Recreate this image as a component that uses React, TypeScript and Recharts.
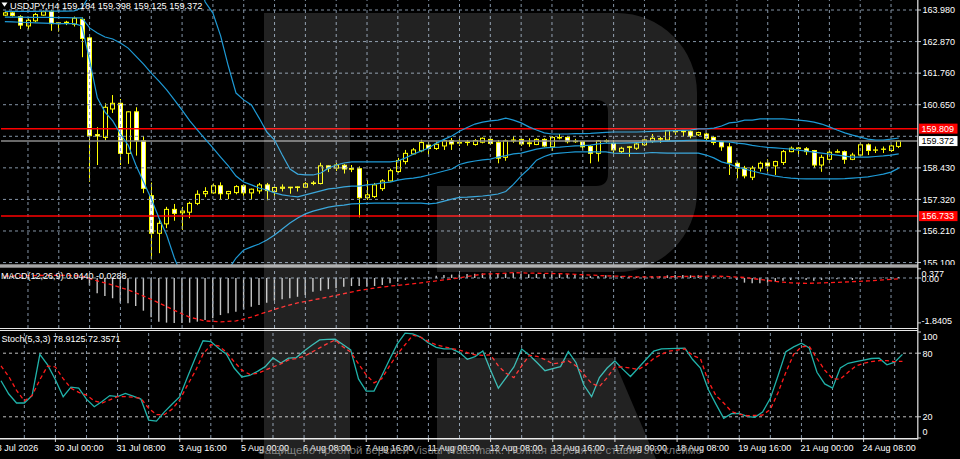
import React from 'react';
import { ComposedChart, Bar, Line, XAxis, YAxis, ReferenceLine } from 'recharts';

const FONT = '"Liberation Sans", Arial, sans-serif';
const GRID = '#8494a6';
const BAND = '#1e9ad6';

const opens = [
  163.80,163.88,163.75,163.42,163.60,163.80,163.93,163.50,163.52,163.48,
  163.65,163.00,159.60,159.50,160.50,160.70,158.94,160.40,159.38,157.45,
  156.13,156.46,156.97,156.85,156.87,157.18,157.52,157.55,157.80,157.52,
  157.56,157.80,157.55,157.62,157.83,157.60,157.71,157.73,157.74,157.75,
  157.88,157.88,158.50,158.42,158.52,158.38,158.40,157.38,157.42,157.70,
  157.97,158.30,158.65,158.92,159.03,159.23,159.11,159.20,159.39,159.30,
  159.32,159.25,159.33,159.43,159.32,158.80,159.38,159.43,159.28,159.25,
  159.43,159.17,159.48,159.50,159.35,159.35,159.18,158.94,159.36,159.29,
  159.00,159.15,159.12,159.24,159.36,159.44,159.41,159.70,159.70,159.70,
  159.59,159.62,159.50,159.35,159.17,158.59,158.42,158.10,158.42,158.60,
  158.50,158.62,159.00,159.11,159.10,159.04,158.53,158.73,158.98,159.00,
  158.73,158.88,159.24,159.05,159.08,159.04,159.184,
];
const highs = [
  163.92,163.93,163.80,163.68,163.88,163.96,163.98,163.56,163.60,163.75,
  163.72,163.02,159.86,160.70,160.99,160.85,160.42,160.56,159.55,157.91,
  156.65,157.06,157.16,157.06,157.24,157.64,157.75,157.88,157.92,157.62,
  157.82,157.84,157.70,157.90,157.90,157.76,157.85,157.76,157.78,157.93,
  157.97,158.61,158.51,158.60,158.56,158.53,158.48,158.00,157.90,158.03,
  158.40,158.78,159.06,159.13,159.42,159.35,159.35,159.44,159.48,159.44,
  159.41,159.44,159.50,159.50,159.41,159.43,159.55,159.47,159.47,159.47,
  159.47,159.55,159.62,159.55,159.45,159.38,159.23,159.41,159.43,159.41,
  159.17,159.20,159.31,159.43,159.62,159.52,159.76,159.79,159.76,159.74,
  159.70,159.66,159.55,159.38,159.31,158.65,158.50,158.50,158.65,158.73,
  158.68,159.06,159.18,159.16,159.16,159.06,158.89,159.06,159.08,159.04,
  158.96,159.32,159.29,159.18,159.18,159.24,159.398,
];
const lows = [
  163.77,163.75,163.31,163.30,163.55,163.78,163.25,163.22,163.45,163.40,
  162.32,157.94,158.53,159.40,160.36,158.53,158.57,158.86,157.54,155.21,
  155.43,156.31,156.57,156.25,156.66,157.12,157.40,157.52,157.33,157.33,
  157.50,157.45,157.33,157.52,157.29,157.45,157.60,157.52,157.60,157.74,
  157.82,157.85,158.28,158.32,158.23,158.28,156.69,157.30,157.37,157.62,
  157.95,158.25,158.55,158.90,158.98,158.90,159.06,159.06,159.06,159.20,
  159.21,159.21,159.29,159.23,158.59,158.68,159.31,159.20,159.17,159.23,
  159.17,159.03,159.43,159.29,159.31,159.06,158.59,158.65,159.31,158.94,
  158.94,158.82,159.06,159.20,159.31,159.31,159.38,159.59,159.55,159.47,
  159.55,159.41,159.23,159.03,158.18,158.06,158.06,158.00,158.30,158.30,
  158.18,158.53,158.98,158.88,158.88,158.43,158.29,158.59,158.95,158.57,
  158.70,158.85,158.88,158.95,158.95,158.99,159.125,
];
const closes = [
  163.88,163.79,163.45,163.62,163.82,163.92,163.50,163.53,163.55,163.69,
  162.98,159.56,159.55,160.56,160.70,158.94,160.40,159.38,157.71,156.13,
  156.48,156.97,156.83,156.91,157.18,157.50,157.60,157.80,157.52,157.60,
  157.77,157.55,157.68,157.83,157.63,157.74,157.75,157.75,157.76,157.87,
  157.90,158.50,158.42,158.53,158.39,158.41,157.38,157.48,157.83,157.97,
  158.33,158.69,158.94,159.06,159.32,159.11,159.26,159.39,159.27,159.32,
  159.34,159.39,159.47,159.29,158.77,159.38,159.41,159.27,159.31,159.43,
  159.20,159.50,159.50,159.35,159.37,159.17,158.94,159.38,159.38,159.06,
  159.12,159.17,159.27,159.41,159.47,159.46,159.74,159.71,159.72,159.55,
  159.67,159.47,159.32,159.17,158.61,158.42,158.15,158.42,158.59,158.50,
  158.65,159.00,159.12,159.13,159.00,158.53,158.80,158.98,159.00,158.73,
  158.88,159.24,159.04,159.06,159.09,159.20,159.372,
];

const bbUpper = [
  163.93,163.93,163.93,163.93,163.93,163.94,163.94,163.94,163.94,163.95,
  164.05,164.50,165.40,165.70,165.85,166.00,166.05,166.20,166.25,166.20,
  166.30,166.25,166.35,166.00,165.60,165.10,164.26,163.87,163.07,162.01,
  161.06,160.82,160.64,160.18,159.69,159.41,158.88,158.39,158.21,158.18,
  158.18,158.25,158.42,158.53,158.60,158.64,158.64,158.64,158.64,158.64,
  158.64,158.67,158.78,158.91,159.02,159.13,159.30,159.43,159.55,159.72,
  159.85,159.97,160.04,160.08,160.11,160.18,160.11,160.01,159.87,159.76,
  159.66,159.62,159.62,159.62,159.63,159.63,159.64,159.66,159.68,159.69,
  159.69,159.69,159.69,159.70,159.71,159.72,159.73,159.74,159.75,159.76,
  159.80,159.80,159.83,159.90,160.01,160.04,160.11,160.11,160.15,160.15,
  160.15,160.15,160.13,160.11,160.08,160.04,159.97,159.87,159.76,159.66,
  159.58,159.51,159.44,159.41,159.41,159.44,159.48,
];
const bbMiddle = [
  163.73,163.73,163.73,163.72,163.72,163.72,163.72,163.71,163.71,163.70,
  163.70,163.35,163.17,163.03,162.96,162.82,162.64,162.36,162.08,161.76,
  161.48,161.17,160.82,160.46,160.08,159.76,159.44,159.13,158.81,158.50,
  158.14,157.93,157.83,157.72,157.65,157.55,157.48,157.44,157.41,157.48,
  157.55,157.62,157.69,157.72,157.76,157.79,157.79,157.83,157.86,157.90,
  157.93,158.00,158.04,158.07,158.11,158.18,158.25,158.32,158.39,158.55,
  158.62,158.67,158.71,158.74,158.81,158.86,158.92,158.95,159.02,159.09,
  159.13,159.15,159.16,159.18,159.20,159.21,159.23,159.27,159.30,159.30,
  159.30,159.31,159.32,159.33,159.34,159.35,159.37,159.38,159.39,159.40,
  159.41,159.39,159.37,159.35,159.34,159.30,159.27,159.22,159.18,159.15,
  159.13,159.11,159.09,159.05,159.02,158.98,158.95,158.91,158.88,158.84,
  158.81,158.81,158.81,158.83,158.85,158.88,158.92,
];
const bbLower = [
  163.57,163.56,163.55,163.54,163.53,163.52,163.51,163.50,163.50,163.50,
  163.42,162.22,160.89,160.39,160.08,159.62,159.23,158.53,157.93,157.34,
  156.67,156.07,155.26,154.60,154.30,154.20,154.30,154.45,154.65,154.85,
  155.26,155.54,155.65,155.75,155.89,156.07,156.28,156.49,156.67,156.81,
  156.91,156.98,157.05,157.09,157.12,157.16,157.17,157.18,157.19,157.19,
  157.19,157.19,157.19,157.19,157.19,157.16,157.19,157.26,157.33,157.39,
  157.40,157.42,157.44,157.47,157.51,157.60,157.85,158.15,158.40,158.70,
  158.83,158.92,158.95,158.97,158.99,158.99,158.99,158.99,158.99,158.95,
  158.94,158.94,158.94,158.95,158.97,158.96,158.95,158.95,158.95,158.95,
  158.95,158.88,158.78,158.64,158.57,158.46,158.39,158.32,158.25,158.19,
  158.14,158.10,158.07,158.05,158.04,158.04,158.04,158.04,158.04,158.05,
  158.07,158.09,158.11,158.16,158.21,158.28,158.42,
];

const macdHist = [
  0.06,0.06,0.05,0.04,0.04,0.05,0.03,0.01,0.00,0.01,
  -0.08,-0.30,-0.63,-0.74,-0.83,-1.01,-1.04,-1.15,-1.34,-1.61,
  -1.79,-1.83,-1.84,-1.84,-1.83,-1.79,-1.72,-1.65,-1.52,-1.45,
  -1.38,-1.28,-1.18,-1.11,-1.01,-0.93,-0.87,-0.83,-0.77,-0.70,
  -0.56,-0.52,-0.46,-0.42,-0.36,-0.33,-0.33,-0.36,-0.33,-0.29,
  -0.22,-0.15,-0.08,-0.05,-0.01,0.05,0.09,0.12,0.14,0.15,
  0.16,0.17,0.19,0.19,0.16,0.19,0.22,0.16,0.15,0.16,
  0.16,0.15,0.16,0.15,0.15,0.13,0.08,0.08,0.11,0.11,
  0.08,0.05,0.05,0.08,0.08,0.08,0.11,0.12,0.12,0.11,
  0.11,0.08,0.05,0.02,-0.01,-0.08,-0.19,-0.22,-0.22,-0.19,
  -0.15,-0.11,-0.08,-0.05,-0.08,-0.11,-0.08,-0.05,-0.05,-0.05,
  -0.08,-0.04,-0.01,-0.01,0.02,0.03,0.044,
];
const macdSignal = [
  0.08,null,0.09,null,0.10,null,0.11,null,0.11,null,
  0.08,null,-0.12,null,-0.29,null,-0.49,null,-0.74,null,
  -1.02,null,-1.33,null,-1.61,null,-1.76,null,-1.80,null,
  -1.76,null,-1.60,null,-1.39,null,-1.19,null,-1.02,null,
  -0.90,null,-0.78,null,-0.64,null,-0.51,null,-0.41,null,
  -0.33,null,-0.27,null,-0.20,null,-0.12,null,-0.04,null,
  0.06,null,0.16,null,0.18,null,0.22,null,0.20,null,
  0.19,null,0.18,null,0.15,null,0.12,null,0.09,null,
  0.07,null,0.05,null,0.05,null,0.05,null,0.06,null,
  0.07,null,0.08,null,0.06,null,0.02,null,-0.06,null,
  -0.14,null,-0.20,null,-0.22,null,-0.20,null,-0.18,null,
  -0.15,null,-0.12,null,-0.08,null,-0.029,
];

const stochK = [
  54,41.5,33,33,40,79,69,55,39,48,
  47,36.7,29.5,34.4,40,39,42,39.6,36.7,16.9,
  15.9,24.4,31.8,39,57.6,75.5,91.7,91,84.7,79,
  66,57.6,59,62.9,67.3,75.6,70.8,75.3,75.9,82,
  87.5,92.6,93.1,93.3,88.2,83.1,55.7,44.3,44.3,58.8,
  74,88.8,99,98.3,95.2,89.7,85.6,84.1,84.1,80.6,
  74.3,76.8,82,64,47,57,67,84,78,71,
  63.5,65.5,67.3,81.5,71,50,39,57,66,72.7,
  65,58,66,74,82,84,84.3,84.6,84.8,74,
  66,46,32,18.5,23,23.2,20.4,19.5,24.5,37.4,
  59,81.5,86,89.5,85,62,51,47,66,70.5,
  72,73.5,75,75.3,69,71.5,78.91,
];
const stochD = [
  68,58,45,35,40,55,68,67,56,47,
  43,40.5,35,33,36,39,39,38.5,37.4,28,
  22,22,27,36,50,63,79,88,87,81,
  72,64,60,61,64,67,70,73.7,75,77,
  81,85,89,92.5,86,81,70,59.5,52,56,
  68,79,88,97,95,91,88,86,84.5,83,
  80.5,78.5,78,78.4,68,61,57,68,78,77,
  74,70,71,72.7,68,60,51.6,48.5,57,67,
  67,66,64.5,69,75,79,82,83,84,78,
  75,54,40,33,25,22.5,21,21.3,21.6,27,
  43,62,79,86,86.6,75,64,56,55.5,62,
  68,70.5,72,73,73,72,72.36,
];

const xTickIdx = [0, 7, 15, 23, 31, 39, 47, 55, 63, 71, 79, 87, 95, 103, 111];
const xTickLabels = [
  '28 Jul 2026', '30 Jul 00:00', '31 Jul 08:00', '3 Aug 16:00', '5 Aug 00:00',
  '6 Aug 08:00', '7 Aug 16:00', '11 Aug 00:00', '12 Aug 08:00', '13 Aug 16:00',
  '17 Aug 00:00', '18 Aug 08:00', '19 Aug 16:00', '21 Aug 00:00', '24 Aug 08:00',
];
const priceTicks = [155.1, 156.21, 157.32, 158.43, 159.54, 160.65, 161.76, 162.87, 163.98];
const macdTicks = [0.377, 0, -1.8405];
const macdTickLabels = ['0.377', '0.00', '-1.8405'];
const stochTicks = [100, 80, 20, 0];
const stochLevels = [80, 20];
const resistance = 159.809;
const support = 156.733;
const bid = 159.372;
const headerText = 'USDJPY,H4  159.184 159.398 159.125 159.372';
const macdText = 'MACD(12,26,9) 0.0440 -0.0288';
const stochText = 'Stoch(5,3,3) 78.9125 72.3571';

const SLOTS = 119;
const gridIdx = Array.from({ length: 29 }, (_, k) => 3 + 4 * k);

const data = Array.from({ length: SLOTS }, (_, i) =>
  i < opens.length
    ? {
        idx: i,
        o: opens[i], h: highs[i], l: lows[i], c: closes[i],
        range: [lows[i], highs[i]],
        bu: bbUpper[i], bm: bbMiddle[i], bl: bbLower[i],
        mh: macdHist[i], ms: macdSignal[i],
        sk: stochK[i], sd: stochD[i],
      }
    : { idx: i }
);

function Candle(props: any) {
  const { x, y, width, height, payload } = props;
  if (!payload || payload.o == null) return <g />;
  const top = Math.min(y, y + height);
  const hgt = Math.abs(height);
  const span = payload.h - payload.l;
  const k = span > 0 ? hgt / span : 0;
  const yO = top + (payload.h - payload.o) * k;
  const yC = top + (payload.h - payload.c) * k;
  const bTop = Math.min(yO, yC);
  const bH = Math.max(Math.abs(yC - yO), 0.01);
  const cx = Math.round(x + width / 2) + 0.5;
  const bull = payload.c >= payload.o;
  return (
    <g>
      <line x1={cx} x2={cx} y1={top} y2={top + hgt} stroke="#ffff00" strokeWidth={1} />
      <rect x={cx - 2} y={bTop} width={4} height={bH} fill={bull ? '#000' : '#fff'} stroke="#ffff00" strokeWidth={1} />
    </g>
  );
}

const priceTag = (text: string, bg: string, fg: string) => (p: any) => {
  const vb = p.viewBox || {};
  const xr = (vb.x ?? 0) + (vb.width ?? 0);
  const yy = vb.y ?? 0;
  return (
    <g>
      <rect x={xr + 1} y={yy - 5} width={38.5} height={10} fill={bg} />
      <text x={xr + 3.5} y={yy + 3.3} fill={fg} fontSize={9} fontFamily={FONT}>{text}</text>
    </g>
  );
};

function PriceTick(props: any) {
  const { y, payload } = props;
  const v = payload.value;
  if (Math.abs(v - 159.54) < 0.001) return <g />;
  return (
    <g>
      <line x1={918} x2={921} y1={y} y2={y} stroke="#d0d0d0" />
      <text x={922.5} y={y + 3.3} fill="#fff" fontSize={9} fontFamily={FONT}>{v.toFixed(3)}</text>
    </g>
  );
}

const macdOffsets = [7.7, 3.5, 1.2];
function MacdTick(props: any) {
  const { y, payload } = props;
  const k = macdTicks.indexOf(payload.value);
  if (k < 0) return <g />;
  return (
    <g>
      <line x1={918} x2={921} y1={y} y2={y} stroke="#d0d0d0" />
      <text x={921.5} y={y + macdOffsets[k]} fill="#fff" fontSize={9} fontFamily={FONT}>{macdTickLabels[k]}</text>
    </g>
  );
}

const stochOffsets = [8, 3.8, 3.2, -3];
function StochTick(props: any) {
  const { y, payload } = props;
  const k = stochTicks.indexOf(payload.value);
  if (k < 0) return <g />;
  return (
    <g>
      <line x1={918} x2={921} y1={y} y2={y} stroke="#d0d0d0" />
      <text x={922.5} y={y + stochOffsets[k]} fill="#fff" fontSize={9} fontFamily={FONT}>{String(payload.value)}</text>
    </g>
  );
}

function DateTick(props: any) {
  const { x, payload } = props;
  const k = xTickIdx.indexOf(payload.value);
  if (k < 0) return <g />;
  const tx = k === 0 ? x - 9.3 : x - 1;
  return (
    <g>
      {k > 0 && <line x1={x} x2={x} y1={108} y2={112} stroke="#d0d0d0" />}
      <text x={tx} y={120.7} fill="#fff" fontSize={9} fontFamily={FONT}>{xTickLabels[k]}</text>
    </g>
  );
}

const margin = { top: 0, right: 0, bottom: 0, left: 1 };

export default function App() {
  return (
    <div style={{ position: 'absolute', left: 0, top: 0, width: 960, height: 459, background: '#000', overflow: 'hidden' }}>
      <div style={{ position: 'absolute', left: 0, top: 0 }}>
        <ComposedChart width={960} height={265} data={data} margin={margin}>
          <XAxis dataKey="idx" hide />
          <YAxis orientation="right" width={42} domain={[155.014, 164.332]} allowDataOverflow ticks={priceTicks}
            interval={0} tick={<PriceTick />} axisLine={false} tickLine={false} />
          {gridIdx.map((i) => (
            <ReferenceLine key={'v' + i} x={i} stroke={GRID} strokeDasharray="3 3" />
          ))}
          {priceTicks.map((p) => (
            <ReferenceLine key={'h' + p} y={p} stroke={GRID} strokeDasharray="3 3" />
          ))}
          <ReferenceLine y={bid} stroke="#8c8c8c" strokeWidth={1.5} label={priceTag(bid.toFixed(3), '#ffffff', '#000000')} />
          <ReferenceLine y={resistance} stroke="#ff0000" strokeWidth={1.5} label={priceTag(resistance.toFixed(3), '#ff0000', '#ffffff')} />
          <ReferenceLine y={support} stroke="#ff0000" strokeWidth={1.5} label={priceTag(support.toFixed(3), '#ff0000', '#ffffff')} />
          <Line dataKey="bu" stroke={BAND} strokeWidth={1.2} dot={false} connectNulls isAnimationActive={false} />
          <Line dataKey="bm" stroke={BAND} strokeWidth={1.2} dot={false} connectNulls isAnimationActive={false} />
          <Line dataKey="bl" stroke={BAND} strokeWidth={1.2} dot={false} connectNulls isAnimationActive={false} />
          <Bar dataKey="range" barSize={5} shape={<Candle />} isAnimationActive={false} />
        </ComposedChart>
      </div>

      <div style={{ position: 'absolute', left: 0, top: 268 }}>
        <ComposedChart width={960} height={60} data={data} margin={margin}>
          <XAxis dataKey="idx" hide />
          <YAxis orientation="right" width={42} domain={[-2.05, 0.41]} allowDataOverflow ticks={macdTicks}
            interval={0} tick={<MacdTick />} axisLine={false} tickLine={false} />
          {gridIdx.map((i) => (
            <ReferenceLine key={'mv' + i} x={i} stroke={GRID} strokeDasharray="3 3" />
          ))}
          <ReferenceLine y={0} stroke={GRID} strokeDasharray="3 3" />
          <Bar dataKey="mh" fill="#c4c4c4" barSize={1.4} isAnimationActive={false} />
          <Line dataKey="ms" stroke="#ff1a1a" strokeWidth={1.3} strokeDasharray="4 3" dot={false} connectNulls isAnimationActive={false} />
        </ComposedChart>
      </div>

      <div style={{ position: 'absolute', left: 0, top: 330 }}>
        <ComposedChart width={960} height={129} data={data} margin={{ top: 2, right: 0, bottom: 0, left: 1 }}>
          <XAxis dataKey="idx" height={21} interval={0} tick={<DateTick />} axisLine={false} tickLine={false} />
          <YAxis orientation="right" width={42} domain={[0, 100]} allowDataOverflow ticks={stochTicks}
            interval={0} tick={<StochTick />} axisLine={false} tickLine={false} />
          {gridIdx.map((i) => (
            <ReferenceLine key={'sv' + i} x={i} stroke={GRID} strokeDasharray="3 3" />
          ))}
          {stochLevels.map((v) => (
            <ReferenceLine key={'sl' + v} y={v} stroke="#c0c0c0" strokeDasharray="3 3" />
          ))}
          <Line dataKey="sk" stroke="#20b2aa" strokeWidth={1.3} dot={false} isAnimationActive={false} />
          <Line dataKey="sd" stroke="#ff1a1a" strokeWidth={1.3} strokeDasharray="4 3" dot={false} isAnimationActive={false} />
        </ComposedChart>
      </div>

      <svg width={960} height={459} style={{ position: 'absolute', left: 0, top: 0, pointerEvents: 'none' }}>
        <rect x={0} y={264.3} width={918} height={3.4} fill="#a6a6a6" />
        <line x1={0} x2={918} y1={328.5} y2={328.5} stroke="#e8e8e8" strokeWidth={1} />
        <line x1={0} x2={918} y1={330.5} y2={330.5} stroke="#e8e8e8" strokeWidth={1} />
        <line x1={0} x2={918} y1={438.8} y2={438.8} stroke="#e8e8e8" strokeWidth={1.5} />
        <line x1={917.8} x2={917.8} y1={0} y2={439.5} stroke="#d8d8d8" strokeWidth={1.3} />
        <polygon points="1.5,2.5 7.5,2.5 4.5,6.8" fill="#fff" />
        <text x={10} y={8.7} fill="#fff" fontSize={9.2} fontFamily={FONT}>{headerText}</text>
        <text x={1} y={279} fill="#fff" fontSize={9} fontFamily={FONT}>{macdText}</text>
        <text x={1.5} y={342} fill="#fff" fontSize={9} fontFamily={FONT}>{stochText}</text>
        <path
          d="M264,13 H617 A80,80 0 0 1 697,93 V192 A80,80 0 0 1 617,272 H437 V186 H596 Q608,186 608,174 V112 Q608,100 596,100 H350 V459 H264 Z"
          fill="#ffffff" fillOpacity={0.135} />
        <path d="M437,358 H613 L656,459 H437 Z" fill="#ffffff" fillOpacity={0.135} />
        <text x={258} y={453.5} fill="#9a9a9a" fillOpacity={0.8} fontSize={11.5} fontFamily={FONT} textLength={444} lengthAdjust="spacingAndGlyphs">
          Защищено пробной версией Visual Watermark. Полная версия не ставит это клеймо
        </text>
      </svg>
    </div>
  );
}
